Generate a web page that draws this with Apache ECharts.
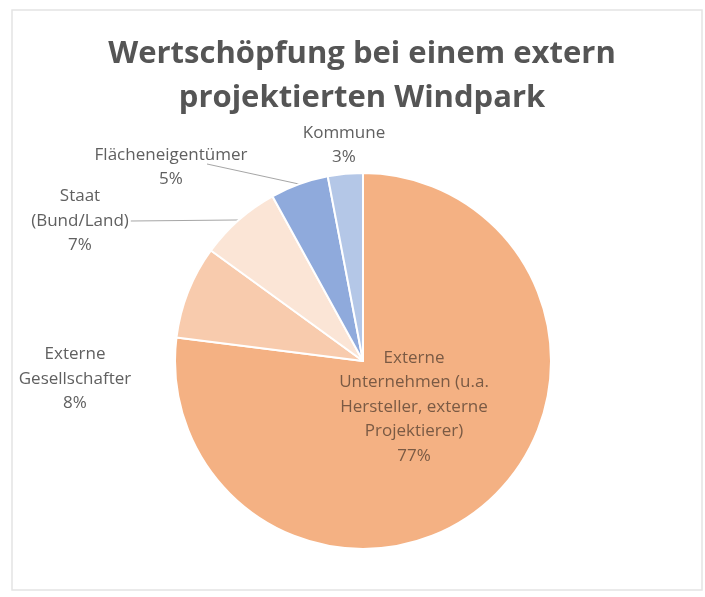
<!DOCTYPE html>
<html>
<head>
<meta charset="utf-8">
<script src="https://cdn.jsdelivr.net/npm/echarts@6/dist/echarts.min.js"></script>
<style>
  html, body { margin: 0; padding: 0; background: #ffffff; }
  #chart { width: 705px; height: 597px; }
</style>
</head>
<body>
<div id="chart"></div>
<script>
// Wertschöpfung bei einem extern projektierten Windpark (Anteile in %)
const titleText = 'Wertschöpfung bei einem extern\nprojektierten Windpark';
const categories = [
  'Externe\nUnternehmen (u.a.\nHersteller, externe\nProjektierer)',
  'Externe\nGesellschafter',
  'Staat\n(Bund/Land)',
  'Flächeneigentümer',
  'Kommune'
];
const shares = [77, 8, 7, 5, 3];
const sliceColors = ['#F4B183', '#F8CBAD', '#FBE5D6', '#8FAADC', '#B4C7E7'];

// Pie geometry
const pieCenter = [363, 361];
const pieRadius = 188;

// Label anchors as offsets from the pie centre, and which labels get a leader line
const labelOffsets = [[51, 46], [-288, 18], [-283, -140], [-192, -194], [-19, -216]];
const leaderLines = [false, false, true, true, false];

const chart = echarts.init(document.getElementById('chart'), null, { renderer: 'canvas' });

const seriesData = categories.map((name, i) => ({
  name: name,
  value: shares[i],
  itemStyle: { color: sliceColors[i] },
  label: { color: i === 0 ? '#7a5a44' : '#606060' },
  labelLine: { show: leaderLines[i] }
}));

chart.setOption({
  backgroundColor: '#ffffff',
  animation: false,
  title: {
    text: titleText,
    left: 362,
    textAlign: 'center',
    top: 32,
    padding: 0,
    textStyle: {
      fontFamily: 'Open Sans',
      fontWeight: 'bold',
      fontSize: 31,
      lineHeight: 44,
      color: '#555555'
    }
  },
  graphic: [{
    type: 'rect',
    shape: { x: 12, y: 10, width: 690, height: 580 },
    style: { fill: null, stroke: '#e4e4e4', lineWidth: 1.5 },
    z: -1
  }],
  series: [{
    type: 'pie',
    center: pieCenter,
    radius: pieRadius,
    startAngle: 90,
    clockwise: true,
    avoidLabelOverlap: false,
    data: seriesData,
    itemStyle: { borderColor: '#ffffff', borderWidth: 2 },
    label: {
      position: 'outside',
      fontFamily: 'Open Sans',
      fontSize: 17,
      lineHeight: 24.5,
      align: 'center',
      formatter: p => p.name + '\n' + Math.round(p.percent) + '%'
    },
    labelLine: {
      length: 0,
      length2: 0,
      lineStyle: { color: '#a6a6a6', width: 1 }
    },
    labelLayout: function (params) {
      const off = labelOffsets[params.dataIndex];
      const x = pieCenter[0] + off[0];
      const y = pieCenter[1] + off[1];
      const out = { x: x, y: y, align: 'center', verticalAlign: 'middle' };
      if (leaderLines[params.dataIndex] && params.labelLinePoints) {
        const w = params.labelRect.width;
        const start = params.dataIndex === 2
          ? [x + w / 2 + 2, y]
          : [x + 36, y - 3];
        out.labelLinePoints = [start, params.labelLinePoints[0]];
      }
      return out;
    }
  }]
});
</script>
</body>
</html>
